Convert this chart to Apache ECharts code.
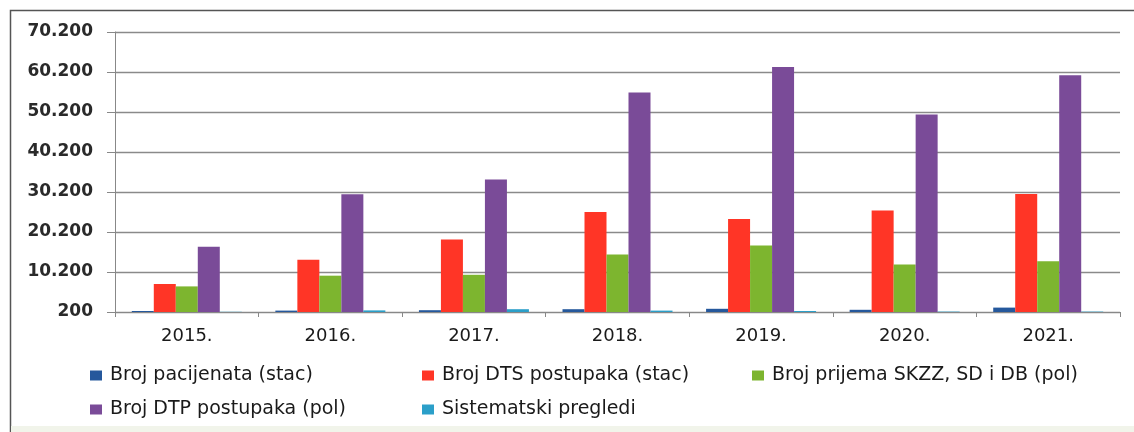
<!DOCTYPE html>
<html>
<head>
<meta charset="utf-8">
<script src="https://cdn.jsdelivr.net/npm/echarts@6.0.0/dist/echarts.min.js"></script>
<style>
  html, body { margin: 0; padding: 0; background: #fff; }
  #chart { width: 1134px; height: 432px; }
</style>
</head>
<body>
<div id="chart"></div>
<script>
// podaci po godinama
var godine = ['2015.', '2016.', '2017.', '2018.', '2019.', '2020.', '2021.'];
var pacijenti = [450, 550, 650, 900, 1000, 750, 1300];
var dtsPostupci = [7200, 13280, 18300, 25200, 23450, 25550, 29700];
var prijemi = [6600, 9280, 9500, 14550, 16800, 12050, 12900];
var dtpPostupci = [16500, 29650, 33300, 55100, 61450, 49550, 59400];
var sistematski = [250, 600, 900, 550, 450, 300, 300];
var yTicks = [200, 10200, 20200, 30200, 40200, 50200, 60200, 70200];

var chart = echarts.init(document.getElementById('chart'));

function fmt(v) {
  return String(v).replace(/\B(?=(\d{3})+(?!\d))/g, '.');
}

var legendText = { fontFamily: 'DejaVu Sans', fontSize: 19, color: '#1a1a1a', padding: [0, 0, 0, 3] };

function leg(name, left, top) {
  return {
    left: left, top: top, padding: 0,
    itemWidth: 12, itemHeight: 10, icon: 'rect',
    textStyle: legendText, data: [name]
  };
}

var option = {
  backgroundColor: '#fff',
  animation: false,
  color: ['#25589c', '#ff3526', '#7db52f', '#7a4b98', '#2b9fc9'],
  grid: { left: 115, right: 14, top: 32, bottom: 120 },
  graphic: [
    {
      type: 'polyline',
      shape: { points: [[10.5, 432], [10.5, 10.5], [1134, 10.5]] },
      style: { fill: 'none', stroke: '#555', lineWidth: 1.5 },
      silent: true
    },
    {
      type: 'rect',
      shape: { x: 11, y: 426, width: 1123, height: 6 },
      style: { fill: '#f1f4ea' },
      silent: true
    }
  ],
  legend: [
    leg('Broj pacijenata (stac)', 90, 366),
    leg('Broj DTS postupaka (stac)', 422, 366),
    leg('Broj prijema SKZZ, SD i DB (pol)', 752, 366),
    leg('Broj DTP postupaka (pol)', 90, 400),
    leg('Sistematski pregledi', 422, 400)
  ],
  xAxis: {
    type: 'category',
    data: godine,
    axisLine: { lineStyle: { color: '#888', width: 1 } },
    axisTick: { show: true, length: 5, lineStyle: { color: '#888' } },
    axisLabel: { fontFamily: 'DejaVu Sans', fontSize: 18, color: '#1a1a1a', margin: 15 }
  },
  yAxis: {
    type: 'value',
    min: 200,
    max: 70200,
    axisLine: { show: true, lineStyle: { color: '#888', width: 1 } },
    axisTick: { show: true, length: 8, customValues: yTicks, lineStyle: { color: '#888' } },
    splitLine: { show: true, lineStyle: { color: '#8a8a8a', width: 1.3 } },
    axisLabel: {
      customValues: yTicks,
      formatter: fmt,
      fontFamily: 'DejaVu Sans',
      fontWeight: 'bold',
      fontSize: 17,
      color: '#2a2a2a',
      margin: 22
    }
  },
  series: [
    { name: 'Broj pacijenata (stac)', type: 'bar', data: pacijenti, barWidth: 22, barGap: '0%' },
    { name: 'Broj DTS postupaka (stac)', type: 'bar', data: dtsPostupci, barWidth: 22, barGap: '0%' },
    { name: 'Broj prijema SKZZ, SD i DB (pol)', type: 'bar', data: prijemi, barWidth: 22, barGap: '0%' },
    { name: 'Broj DTP postupaka (pol)', type: 'bar', data: dtpPostupci, barWidth: 22, barGap: '0%' },
    { name: 'Sistematski pregledi', type: 'bar', data: sistematski, barWidth: 22, barGap: '0%' }
  ]
};

chart.setOption(option);
</script>
</body>
</html>
